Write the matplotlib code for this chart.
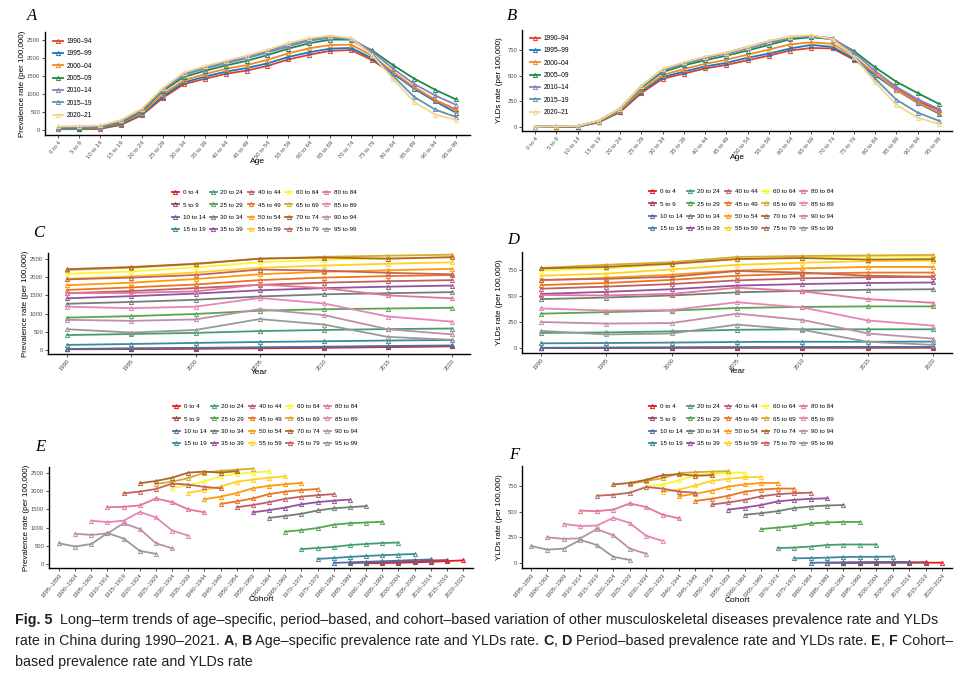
import numpy as np
import matplotlib
matplotlib.use('Agg')
import matplotlib.pyplot as plt
from matplotlib.colors import LinearSegmentedColormap

plt.rcParams['font.family'] = ['Liberation Sans', 'DejaVu Sans']

ages = ["0 to 4", "5 to 9", "10 to 14", "15 to 19", "20 to 24", "25 to 29", "30 to 34",
        "35 to 39", "40 to 44", "45 to 49", "50 to 54", "55 to 59", "60 to 64", "65 to 69",
        "70 to 74", "75 to 79", "80 to 84", "85 to 89", "90 to 94", "95 to 99"]
periods = ["1990–94", "1995–99", "2000–04", "2005–09", "2010–14", "2015–19", "2020–21"]
years = [1990, 1995, 2000, 2005, 2010, 2015, 2020]
cohorts = ["1895–1899", "1900–1904", "1905–1909", "1910–1914", "1915–1919", "1920–1924",
           "1925–1929", "1930–1934", "1935–1939", "1940–1944", "1945–1949", "1950–1954",
           "1955–1959", "1960–1964", "1965–1969", "1970–1974", "1975–1979", "1980–1984",
           "1985–1989", "1990–1994", "1995–1999", "2000–2004", "2005–2009", "2010–2014",
           "2015–2019", "2020–2024"]

# rows = age groups, columns = periods (1990 ... 2020)
prevalence = np.array([
    [20, 25, 35, 45, 60, 80, 100],
    [25, 35, 45, 60, 75, 95, 110],
    [30, 45, 60, 75, 90, 110, 125],
    [140, 165, 195, 220, 240, 260, 275],
    [410, 440, 470, 520, 550, 575, 590],
    [890, 930, 990, 1080, 1120, 1140, 1160],
    [1270, 1320, 1380, 1470, 1530, 1560, 1590],
    [1420, 1480, 1550, 1640, 1700, 1740, 1770],
    [1560, 1620, 1700, 1790, 1850, 1890, 1920],
    [1650, 1720, 1800, 1920, 1990, 2030, 2060],
    [1780, 1850, 1950, 2080, 2150, 2190, 2230],
    [1960, 2030, 2130, 2260, 2320, 2370, 2410],
    [2090, 2160, 2270, 2410, 2480, 2510, 2550],
    [2200, 2260, 2360, 2510, 2560, 2590, 2620],
    [2220, 2280, 2370, 2510, 2540, 2510, 2550],
    [1940, 1990, 2060, 2210, 2180, 2120, 2080],
    [1560, 1570, 1610, 1800, 1700, 1500, 1420],
    [1190, 1150, 1190, 1430, 1280, 920, 780],
    [830, 800, 840, 1120, 960, 570, 430],
    [570, 480, 550, 850, 700, 360, 280],
])

ylds = np.array([
    [0.5, 1, 2, 3, 3, 3, 3],
    [1, 2, 3, 5, 6, 6, 7],
    [2, 4, 6, 8, 9, 10, 10],
    [45, 48, 52, 58, 60, 60, 62],
    [145, 150, 160, 175, 180, 180, 180],
    [330, 345, 360, 385, 395, 400, 400],
    [470, 485, 505, 535, 550, 560, 565],
    [520, 540, 565, 600, 615, 625, 630],
    [570, 590, 615, 650, 670, 680, 685],
    [605, 625, 655, 695, 715, 725, 725],
    [650, 675, 705, 745, 765, 780, 780],
    [695, 715, 755, 800, 820, 835, 840],
    [745, 765, 805, 855, 870, 880, 880],
    [770, 800, 825, 875, 885, 890, 895],
    [765, 780, 810, 855, 865, 850, 855],
    [655, 665, 685, 740, 725, 695, 685],
    [510, 505, 520, 580, 545, 470, 435],
    [380, 360, 365, 440, 390, 265, 215],
    [250, 235, 240, 330, 270, 140, 90],
    [165, 130, 140, 225, 175, 60, 30],
])

period_colors = ["#D9432C", "#1C77C3", "#F08A24", "#1D8A47", "#8B80C4", "#5E93B8", "#F6D58C"]
set1 = ["#E41A1C", "#377EB8", "#4DAF4A", "#984EA3", "#FF7F00", "#FFFF33", "#A65628", "#F781BF", "#999999"]
ramp = LinearSegmentedColormap.from_list('set1ramp', set1)
age_colors = [ramp(i / 19) for i in range(20)]

W, H = 974, 679
fig = plt.figure(figsize=(W / 100, H / 100), dpi=100)
ROT = 50


def rect(l, t, r, b):
    return [l / W, 1 - b / H, (r - l) / W, (b - t) / H]


def style(ax):
    ax.spines['top'].set_visible(False)
    ax.spines['right'].set_visible(False)
    ax.spines['left'].set_linewidth(1.0)
    ax.spines['bottom'].set_linewidth(1.0)
    ax.tick_params(length=2, width=0.6, labelsize=4.2, labelcolor='#4d4d4d', color='#333333', pad=1.5)


def age_legend(ax, x, y):
    ax.legend(loc='upper left', bbox_to_anchor=(x / W, 1 - y / H), bbox_transform=fig.transFigure,
              ncol=5, frameon=False, fontsize=4.5, handlelength=1.1, handletextpad=0.6,
              columnspacing=0.7, labelspacing=1.1, borderpad=0, borderaxespad=0)


def panel_age(box, data, yticks, ylim, xlim, ylabel, leg_xy):
    ax = fig.add_axes(rect(*box))
    x = np.arange(len(ages))
    for p in range(len(periods)):
        ax.plot(x, data[:, p], color=period_colors[p], lw=1.3, marker='^', ms=3,
                mfc='none', mew=0.7, label=periods[p])
    ax.set_xticks(x)
    ax.set_xticklabels(ages, rotation=ROT, ha='right', rotation_mode='anchor')
    ax.set_yticks(yticks)
    ax.set_xlim(*xlim)
    ax.set_ylim(*ylim)
    style(ax)
    ax.set_xlabel('Age', fontsize=6)
    ax.set_ylabel(ylabel, fontsize=5.8)
    ax.xaxis.set_label_coords(0.5, -0.225)
    ax.yaxis.set_label_coords(-0.045, 0.5)
    ax.legend(loc='upper left', bbox_to_anchor=(leg_xy[0] / W, 1 - leg_xy[1] / H),
              bbox_transform=fig.transFigure, frameon=False, fontsize=4.8, handlelength=1.5,
              handletextpad=0.6, labelspacing=0.8, borderpad=0, borderaxespad=0)
    return ax


def panel_period(box, data, yticks, ylim, xlim, ylabel, leg_xy):
    ax = fig.add_axes(rect(*box))
    for a in range(len(ages)):
        ax.plot(years, data[a], color=age_colors[a], lw=1.3, marker='^', ms=3,
                mfc='none', mew=0.7, label=ages[a])
    ax.set_xticks(years)
    ax.set_xticklabels([str(y) for y in years], rotation=ROT, ha='right', rotation_mode='anchor')
    ax.set_yticks(yticks)
    ax.set_xlim(*xlim)
    ax.set_ylim(*ylim)
    style(ax)
    ax.set_xlabel('Year', fontsize=6)
    ax.set_ylabel(ylabel, fontsize=5.8)
    ax.xaxis.set_label_coords(0.5, -0.15)
    ax.yaxis.set_label_coords(-0.045, 0.5)
    age_legend(ax, *leg_xy)
    return ax


def panel_cohort(box, data, yticks, ylim, xlim, ylabel, leg_xy):
    ax = fig.add_axes(rect(*box))
    n_age = len(ages)
    for a in range(n_age):
        cx = np.arange(len(years)) - a + n_age - 1
        ax.plot(cx, data[a], color=age_colors[a], lw=1.3, marker='^', ms=3,
                mfc='none', mew=0.7, label=ages[a])
    ax.set_xticks(np.arange(len(cohorts)))
    ax.set_xticklabels(cohorts, rotation=ROT, ha='right', rotation_mode='anchor')
    ax.set_yticks(yticks)
    ax.set_xlim(*xlim)
    ax.set_ylim(*ylim)
    style(ax)
    ax.set_xlabel('Cohort', fontsize=6)
    ax.set_ylabel(ylabel, fontsize=5.8)
    ax.xaxis.set_label_coords(0.5, -0.28)
    ax.yaxis.set_label_coords(-0.045, 0.5)
    age_legend(ax, *leg_xy)
    return ax


prev_ticks = [0, 500, 1000, 1500, 2000, 2500]
yld_ticks = [0, 250, 500, 750]
prev_lab = 'Prevalence rate (per 100,000)'
yld_lab = 'YLDs rate (per 100,000)'

panel_age((45, 32, 470, 135), prevalence, prev_ticks, (-139, 2722), (-0.62, 19.67), prev_lab, (53, 38))
panel_age((522, 30, 952, 131), ylds, yld_ticks, (-39, 945), (-0.61, 19.61), yld_lab, (530, 35))
panel_period((48, 253, 470, 354), prevalence, prev_ticks, (-110, 2665), (1988.5, 2021.4), prev_lab, (172, 190))
panel_period((522, 252, 952, 353), ylds, yld_ticks, (-48, 923), (1988.55, 2021.45), yld_lab, (649, 189))
panel_cohort((49, 467, 473, 568), prevalence, prev_ticks, (-110, 2665), (-0.62, 25.62), prev_lab, (173, 404))
panel_cohort((522, 466, 952, 568), ylds, yld_ticks, (-49, 945), (-0.55, 25.6), yld_lab, (649, 404))

for letter, lx, ly in [('A', 32, 16), ('B', 512, 16), ('C', 39, 233), ('D', 513, 240),
                       ('E', 40, 447), ('F', 514, 455)]:
    fig.text(lx / W, 1 - ly / H, letter, fontsize=12, family='Liberation Serif', style='italic',
             ha='center', va='center')

# caption with bold parts
cap_font = ['Liberation Sans', 'DejaVu Sans']
cap_size = 10.3
renderer = fig.canvas.get_renderer()


def seg_width(txt, bold):
    w = []
    for s in ('|' + txt + '|', '||'):
        t = fig.text(0, 0, s, fontsize=cap_size, family=cap_font, fontweight='bold' if bold else 'normal')
        w.append(t.get_window_extent(renderer).width)
        t.remove()
    return w[0] - w[1]


def caption_line(y, parts):
    x = 15
    for txt, bold in parts:
        fig.text(x / W, 1 - y / H, txt, fontsize=cap_size, family=cap_font,
                 fontweight='bold' if bold else 'normal', ha='left', va='center', color='#231f20')
        x += seg_width(txt, bold)


caption_line(620, [("Fig. 5", True), ("  Long–term trends of age–specific, period–based, and cohort–based variation "
                                       "of other musculoskeletal diseases prevalence rate and YLDs", False)])
caption_line(641, [("rate in China during 1990–2021. ", False), ("A", True), (", ", False), ("B", True),
                   (" Age–specific prevalence rate and YLDs rate. ", False), ("C", True), (", ", False),
                   ("D", True), (" Period–based prevalence rate and YLDs rate. ", False), ("E", True),
                   (", ", False), ("F", True), (" Cohort–", False)])
caption_line(662, [("based prevalence rate and YLDs rate", False)])

fig.savefig('out.png', dpi=100)
